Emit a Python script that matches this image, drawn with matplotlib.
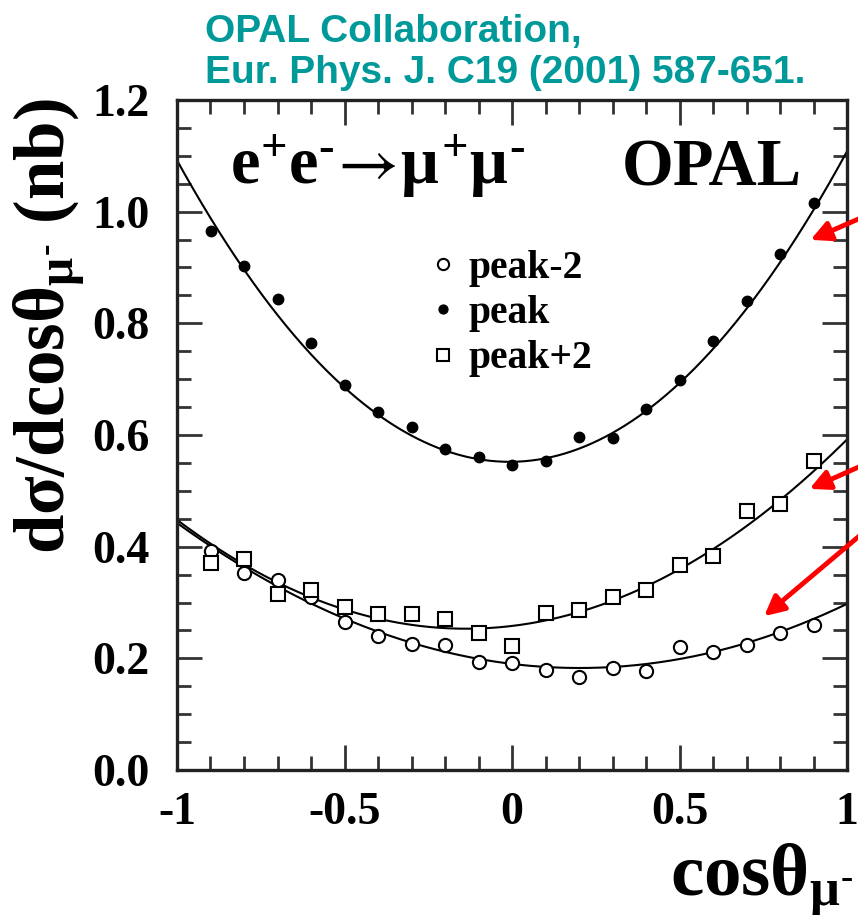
import numpy as np
import matplotlib
matplotlib.use("Agg")
import matplotlib.pyplot as plt
from matplotlib.ticker import MultipleLocator

plt.rcParams['mathtext.fontset'] = 'custom'
plt.rcParams['mathtext.rm'] = 'Liberation Serif:bold'
plt.rcParams['mathtext.it'] = 'Liberation Serif:bold'
plt.rcParams['mathtext.bf'] = 'Liberation Serif:bold'
plt.rcParams['mathtext.sf'] = 'STIXGeneral'
plt.rcParams['mathtext.fallback'] = 'stix'
plt.rcParams['font.family'] = ['Liberation Serif', 'DejaVu Serif']

# ---- data ----
cos_theta = [-0.9, -0.8, -0.7, -0.6, -0.5, -0.4, -0.3, -0.2, -0.1, 0.0,
             0.1, 0.2, 0.3, 0.4, 0.5, 0.6, 0.7, 0.8, 0.9]
peak_m2 = [0.393, 0.353, 0.341, 0.310, 0.265, 0.240, 0.226, 0.223, 0.194, 0.191,
           0.180, 0.167, 0.183, 0.178, 0.220, 0.211, 0.223, 0.246, 0.259]
peak = [0.966, 0.902, 0.843, 0.764, 0.689, 0.641, 0.614, 0.575, 0.560, 0.547,
        0.554, 0.597, 0.595, 0.646, 0.699, 0.768, 0.840, 0.924, 1.015]
peak_p2 = [0.371, 0.378, 0.316, 0.322, 0.292, 0.280, 0.280, 0.271, 0.246, 0.222,
           0.282, 0.286, 0.310, 0.322, 0.368, 0.383, 0.463, 0.476, 0.553]
# fitted curves: quadratic coefficients [c2, c1, c0]
fit_peak_m2 = [0.180, -0.0725, 0.190]
fit_peak = [0.548, 0.008, 0.552]
fit_peak_p2 = [0.262, 0.072, 0.258]
labels = ['peak-2', 'peak', 'peak+2']
xticks = [-1, -0.5, 0, 0.5, 1]
xtick_labels = ['-1', '-0.5', '0', '0.5', '1']
yticks = [0, 0.2, 0.4, 0.6, 0.8, 1.0, 1.2]
ytick_labels = ['0.0', '0.2', '0.4', '0.6', '0.8', '1.0', '1.2']

W, H = 858, 915
fig = plt.figure(figsize=(W / 100, H / 100), dpi=100)
ax = fig.add_axes([177 / W, 1 - 770 / H, 670 / W, 670 / H])

xs = np.linspace(-1, 1, 400)
for c in (fit_peak_m2, fit_peak, fit_peak_p2):
    ax.plot(xs, np.polyval(c, xs), color='black', lw=1.5, zorder=2)

ax.plot(cos_theta, peak_m2, 'o', ms=9.5, mfc='white', mec='black', mew=1.5,
        label=labels[0], zorder=3)
ax.plot(cos_theta, peak, 'o', ms=7.5, mfc='black', mec='black', mew=1.0,
        label=labels[1], zorder=3)
ax.plot(cos_theta, peak_p2, 's', ms=10, mfc='white', mec='black', mew=1.5,
        label=labels[2], zorder=3)

ax.set_xlim(-1, 1)
ax.set_ylim(0, 1.2)
ax.set_xticks(xticks)
ax.set_xticklabels(xtick_labels, fontweight='bold')
ax.set_yticks(yticks)
ax.set_yticklabels(ytick_labels, fontweight='bold')
ax.xaxis.set_minor_locator(MultipleLocator(0.1))
ax.yaxis.set_minor_locator(MultipleLocator(0.05))
ax.tick_params(which='both', direction='in', top=True, right=True,
               color='#333333', width=2)
ax.tick_params(which='major', length=18, labelsize=33)
ax.tick_params(which='minor', length=10)
ax.tick_params(axis='x', which='major', pad=16)
ax.tick_params(axis='y', which='major', pad=20)
for s in ax.spines.values():
    s.set_linewidth(2.4)
    s.set_color('#222222')

fig.text(854 / W, 1 - 895 / H, r'cos$\theta_{\mu^{\text{-}}}$', fontsize=54,
         fontweight='bold', ha='right', va='baseline')
fig.text(12 / W, 1 - 326 / H, r'd$\sigma$/dcos$\theta_{\mu^{\text{-}}}$ (nb)', fontsize=51,
         fontweight='bold', rotation=90, ha='left', va='center')

ax.text((230 - 177) / 670, (770 - 183) / 670,
        r'e$^{+}$e$^{\text{-}}\!\mathsf{\rightarrow}\!\mu^{+}\mu^{\text{-}}$',
        transform=ax.transAxes,
        fontsize=48, fontweight='bold', ha='left', va='baseline')
ax.text(0.933, (770 - 185) / 670, 'OPAL', transform=ax.transAxes, fontsize=48,
        fontweight='bold', ha='right', va='baseline')

leg = ax.legend(loc='upper left', bbox_to_anchor=(0.358, 0.80), frameon=False,
                prop={'family': 'Liberation Serif', 'weight': 'bold', 'size': 28.5},
                handlelength=0.5, handletextpad=0.4, labelspacing=0.21,
                borderaxespad=0, markerscale=0.85)

fig.text(205 / W, 1 - 42 / H, 'OPAL Collaboration,', color='#009999',
         fontsize=28, fontweight='bold', family='Liberation Sans', va='baseline')
fig.text(205 / W, 1 - 83 / H, 'Eur. Phys. J. C19 (2001) 587-651.', color='#009999',
         fontsize=28, fontweight='bold', family='Liberation Sans', va='baseline')

arrows = [((870 / W, 1 - 214 / H), (808 / W, 1 - 241 / H)),
          ((870 / W, 1 - 462 / H), (807 / W, 1 - 490 / H)),
          ((870 / W, 1 - 527 / H), (762 / W, 1 - 618 / H))]
for start, end in arrows:
    fig.add_artist(matplotlib.patches.FancyArrowPatch(
        start, end, transform=fig.transFigure, arrowstyle='-|>',
        mutation_scale=30, color='red', lw=3.5, zorder=10))

fig.savefig('out.png', dpi=100)
